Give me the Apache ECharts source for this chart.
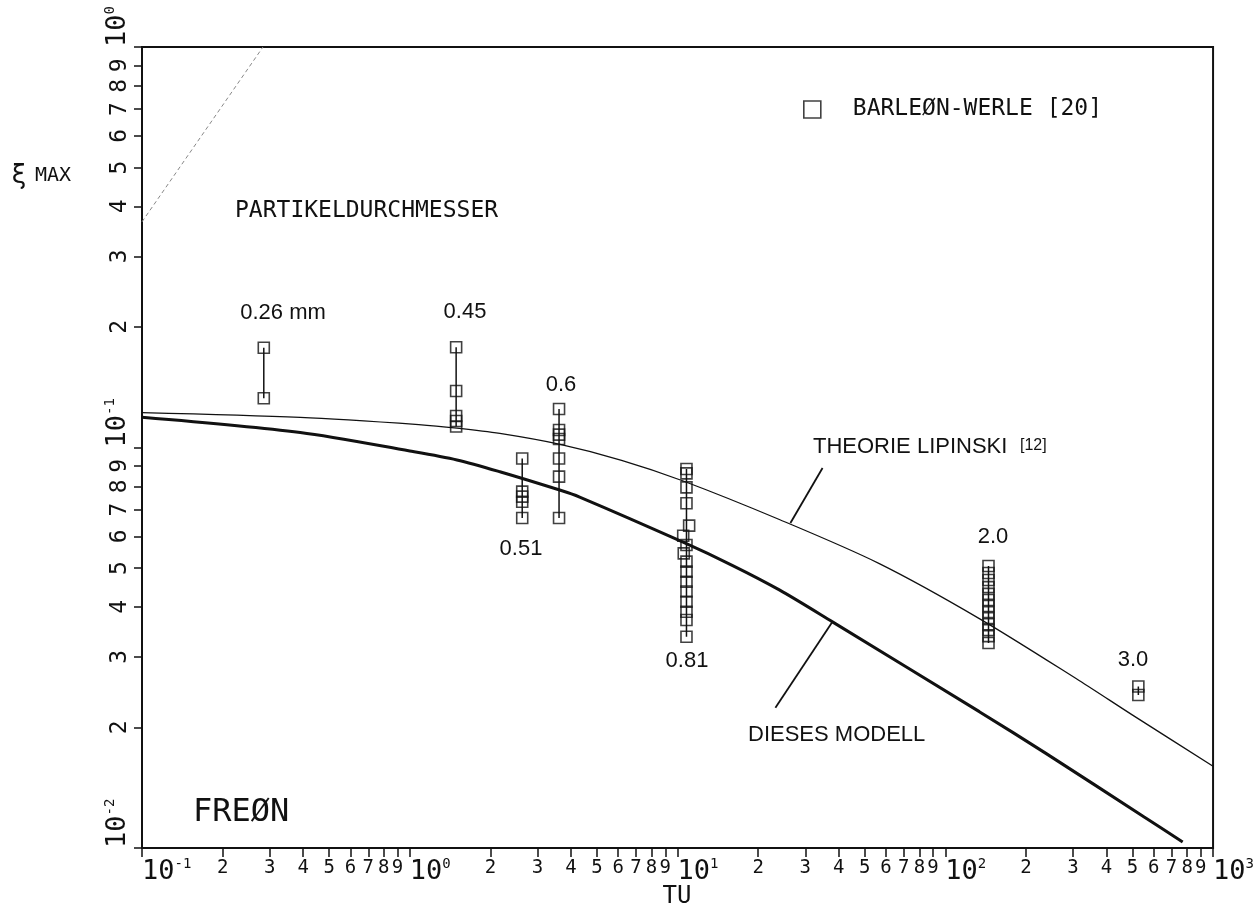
<!DOCTYPE html>
<html>
<head>
<meta charset="utf-8">
<script src="https://cdn.jsdelivr.net/npm/echarts@6/dist/echarts.min.js"></script>
<style>
  html, body { margin: 0; padding: 0; background: #fff; }
  #chart { width: 1257px; height: 920px; }
</style>
</head>
<body>
<div id="chart"></div>
<script>
// ξ_max against TU for Freon: two model curves and measured groups by particle diameter.

// Theorie Lipinski [12]
const lipinskiTU = [0.1, 0.39, 1.08, 1.5, 2.17, 3.61, 6.18, 10.44, 24, 56.7, 134, 316, 499, 1000];
const lipinskiXi = [0.1222, 0.1189, 0.1141, 0.1118, 0.1084, 0.1019, 0.0929, 0.0826, 0.0661, 0.0513, 0.0374, 0.0262, 0.0215, 0.0160];

// Dieses Modell
const modellTU = [0.1, 0.39, 1.0, 1.5, 2.17, 3.63, 4.31, 10.44, 16, 24, 37.9, 134, 237.5, 553, 770];
const modellXi = [0.119, 0.109, 0.098, 0.0931, 0.087, 0.0783, 0.0752, 0.0581, 0.0508, 0.0441, 0.0367, 0.0219, 0.01723, 0.01195, 0.01035];

// Barleon-Werle [20]: one group per particle diameter
const groupLabels = ['0.26 mm', '0.45', '0.51', '0.6', '0.81', '2.0', '3.0'];
const groupTU = [
  [0.285, 0.285],
  [1.49, 1.49, 1.49, 1.49, 1.49],
  [2.63, 2.63, 2.63, 2.63, 2.63],
  [3.61, 3.61, 3.61, 3.61, 3.61, 3.61, 3.61],
  [10.8, 10.8, 10.8, 10.8, 11.05, 10.5, 10.8, 10.55, 10.8, 10.8, 10.8, 10.8, 10.8, 10.8, 10.8, 10.8],
  [145, 145, 145, 145, 145, 145, 145, 145, 145, 145, 145, 145, 145],
  [526, 526]
];
const groupXi = [
  [0.1775, 0.1327],
  [0.178, 0.1384, 0.1199, 0.1165, 0.1128],
  [0.0939, 0.0776, 0.0754, 0.0732, 0.0667],
  [0.1248, 0.1106, 0.1077, 0.105, 0.0939, 0.0846, 0.0667],
  [0.0884, 0.0862, 0.0795, 0.0726, 0.0638, 0.0602, 0.0571, 0.0544, 0.0519, 0.049, 0.0462, 0.0437, 0.0412, 0.0389, 0.0371, 0.0337],
  [0.0506, 0.0486, 0.0467, 0.0448, 0.0431, 0.0416, 0.0402, 0.0388, 0.0375, 0.0362, 0.035, 0.0338, 0.0325],
  [0.0253, 0.0241]
];

// Faint diagonal guide in the upper left corner
const guideTU = [0.1, 0.283];
const guideXi = [0.366, 1.0];

// Leader lines from the curve names to the curves
const lipinskiLeaderTU = [34.8, 26.4];
const lipinskiLeaderXi = [0.0889, 0.0648];
const modellLeaderTU = [37.9, 23.2];
const modellLeaderXi = [0.0367, 0.0224];

// Axis ticks: decades and the digits between them
const xDecades = [-1, 0, 1, 2, 3];
const yDecades = [-2, -1, 0];
const minorDigits = [2, 3, 4, 5, 6, 7, 8, 9];

const MONO = '"DejaVu Sans Mono", monospace';
const SANS = '"Liberation Sans", Arial, sans-serif';
const INK = '#111';

function minorValues(decades) {
  const out = [];
  for (let i = 0; i < decades.length - 1; i++) {
    for (const d of minorDigits) out.push(decades[i] + Math.log10(d));
  }
  return out;
}
const xMinor = minorValues(xDecades);
const yMinor = minorValues(yDecades);

const pairs = (xs, ys) => xs.map((x, i) => [x, ys[i]]);
const digitOf = v => String(Math.round(Math.pow(10, v - Math.floor(v + 1e-9))));
const powerOf = v => '{b|10}{s|' + Math.round(v) + '}';

const majorRich = {
  b: { fontFamily: MONO, fontSize: 27, color: INK, lineHeight: 29 },
  s: { fontFamily: MONO, fontSize: 14, color: INK, verticalAlign: 'top', lineHeight: 14 }
};

const chart = echarts.init(document.getElementById('chart'), null, { renderer: 'canvas' });

const series = [];

// vertical connectors of each measured group
groupTU.forEach((xs, g) => {
  const ys = groupXi[g];
  series.push({
    type: 'line', xAxisIndex: 0, yAxisIndex: 0,
    data: [[xs[0], Math.max(...ys)], [xs[0], Math.min(...ys)]],
    symbol: 'none', silent: true,
    lineStyle: { color: INK, width: 1.5 }, z: 3
  });
});

series.push({
  name: 'BARLEØN-WERLE [20]',
  type: 'scatter', xAxisIndex: 0, yAxisIndex: 0,
  data: groupTU.flatMap((xs, g) => pairs(xs, groupXi[g])),
  symbol: 'rect', symbolSize: 11,
  itemStyle: { color: 'rgba(0,0,0,0)', borderColor: INK, borderWidth: 1.6 },
  z: 4
});

series.push({
  name: 'THEORIE LIPINSKI', type: 'line', xAxisIndex: 0, yAxisIndex: 0,
  data: pairs(lipinskiTU, lipinskiXi), symbol: 'none', smooth: 0.3,
  lineStyle: { color: INK, width: 1.3 }, z: 2
});
series.push({
  name: 'DIESES MODELL', type: 'line', xAxisIndex: 0, yAxisIndex: 0,
  data: pairs(modellTU, modellXi), symbol: 'none', smooth: 0.3,
  lineStyle: { color: INK, width: 3 }, z: 2
});
series.push({
  type: 'line', xAxisIndex: 0, yAxisIndex: 0,
  data: pairs(guideTU, guideXi), symbol: 'none', silent: true,
  lineStyle: { color: '#888', width: 1, type: [4, 3] }, z: 1
});
series.push({
  type: 'line', xAxisIndex: 0, yAxisIndex: 0,
  data: pairs(lipinskiLeaderTU, lipinskiLeaderXi), symbol: 'none', silent: true,
  lineStyle: { color: INK, width: 1.8 }, z: 2
});
series.push({
  type: 'line', xAxisIndex: 0, yAxisIndex: 0,
  data: pairs(modellLeaderTU, modellLeaderXi), symbol: 'none', silent: true,
  lineStyle: { color: INK, width: 1.8 }, z: 2
});

function text(str, x, y, font, align) {
  return {
    type: 'text', x: x, y: y, silent: true,
    style: { text: str, font: font, fill: INK, textAlign: align || 'center', textVerticalAlign: 'middle' }
  };
}

// group labels, placed above / below their columns
const groupLabelPos = [[283, 313], [465, 312], [521, 549], [561, 385], [687, 661], [993, 537], [1133, 660]];

const graphics = [
  text('ξ', 19, 176, '26px "DejaVu Sans", sans-serif'),
  text('MAX', 35, 176, '20px ' + MONO, 'left'),
  text('PARTIKELDURCHMESSER', 235, 211, '23px ' + MONO, 'left'),
  text('FREØN', 193, 813, '32px ' + MONO, 'left'),
  text('TU', 677, 897, '24px ' + MONO),
  text('THEORIE LIPINSKI', 813, 447, '22px ' + SANS, 'left'),
  text('[12]', 1020, 446, '16px ' + SANS, 'left'),
  text('DIESES MODELL', 748, 735, '22px ' + SANS, 'left')
].concat(groupLabels.map((s, i) => text(s, groupLabelPos[i][0], groupLabelPos[i][1], '22px ' + SANS)));

const axisLineStyle = { color: INK, width: 2 };

chart.setOption({
  animation: false,
  backgroundColor: '#fff',
  grid: { left: 142, right: 43, top: 47, bottom: 72, show: true, borderColor: INK, borderWidth: 2, backgroundColor: 'rgba(0,0,0,0)' },
  legend: {
    data: ['BARLEØN-WERLE [20]'],
    left: 798, top: 93,
    icon: 'rect', itemWidth: 17, itemHeight: 17,
    itemStyle: { color: 'rgba(0,0,0,0)', borderColor: INK, borderWidth: 1.6 },
    textStyle: { fontFamily: MONO, fontSize: 23, color: INK, padding: [0, 0, 0, 27] },
    selectedMode: false
  },
  xAxis: [
    { type: 'log', logBase: 10, min: 0.1, max: 1000, show: false, position: 'bottom' },
    {
      type: 'value', min: -1, max: 3, position: 'bottom',
      axisLine: { show: true, onZero: false, lineStyle: axisLineStyle },
      axisTick: { show: true, customValues: xDecades.concat(xMinor), length: 9, lineStyle: { color: INK, width: 1.5 } },
      axisLabel: { show: true, customValues: xMinor, formatter: digitOf, fontFamily: MONO, fontSize: 19, color: INK, margin: 11, align: 'center', showMinLabel: true, showMaxLabel: true },
      splitLine: { show: false }
    },
    {
      type: 'value', min: -1, max: 3, position: 'bottom',
      axisLine: { show: false, onZero: false }, axisTick: { show: false },
      axisLabel: { show: true, customValues: xDecades, formatter: powerOf, rich: majorRich, margin: 9, align: 'left', showMinLabel: true, showMaxLabel: true },
      splitLine: { show: false }
    }
  ],
  yAxis: [
    { type: 'log', logBase: 10, min: 0.01, max: 1, show: false, position: 'left' },
    {
      type: 'value', min: -2, max: 0, position: 'left',
      axisLine: { show: true, onZero: false, lineStyle: axisLineStyle },
      axisTick: { show: true, customValues: yDecades.concat(yMinor), length: 8, lineStyle: { color: INK, width: 1.5 } },
      axisLabel: { show: true, customValues: yMinor, formatter: digitOf, fontFamily: MONO, fontSize: 23, color: INK, margin: 10, rotate: 90, align: 'center', verticalAlign: 'bottom', showMinLabel: true, showMaxLabel: true },
      splitLine: { show: false }
    },
    {
      type: 'value', min: -2, max: 0, position: 'left',
      axisLine: { show: false, onZero: false }, axisTick: { show: false },
      axisLabel: { show: true, customValues: yDecades, formatter: powerOf, rich: majorRich, margin: 10, rotate: 90, align: 'left', verticalAlign: 'bottom', showMinLabel: true, showMaxLabel: true },
      splitLine: { show: false }
    }
  ],
  graphic: graphics,
  series: series
});
</script>
</body>
</html>
